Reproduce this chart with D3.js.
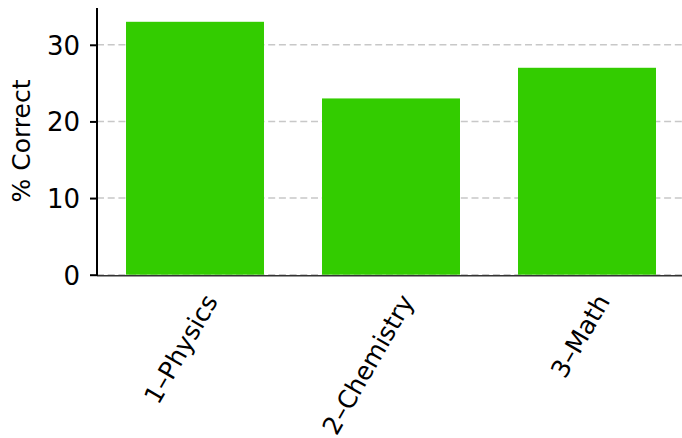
<!DOCTYPE html>
<html>
<head>
<meta charset="utf-8">
<script src="https://cdn.jsdelivr.net/npm/d3@7"></script>
<style>
  body { margin: 0; background: #fff; }
  text { font-family: "DejaVu Sans", sans-serif; }
</style>
</head>
<body>
<svg id="chart" width="682" height="438"></svg>
<script>
const subjects = ["1–Physics", "2–Chemistry", "3–Math"];
const pctCorrect = [33, 23, 27];
const yTicks = [0, 10, 20, 30];

const svg = d3.select("#chart");
const plotLeft = 97, plotTop = 8, plotBottom = 274.7, plotRight = 685;

const x = d3.scaleBand()
    .domain(subjects)
    .range([plotLeft, plotRight])
    .paddingInner(0.296)
    .paddingOuter(0.148);

const y = d3.scaleLinear()
    .domain([0, 34.8])
    .range([plotBottom, plotTop]);

// grid
svg.append("g")
    .selectAll("line")
    .data(yTicks)
    .join("line")
    .attr("x1", plotLeft)
    .attr("x2", 682)
    .attr("y1", d => y(d))
    .attr("y2", d => y(d))
    .style("stroke", "#c8c8c8")
    .style("stroke-width", 1.5)
    .style("stroke-dasharray", "7,3.7");

// base line under bars
svg.append("line")
    .attr("x1", plotLeft).attr("x2", 682)
    .attr("y1", plotBottom + 1).attr("y2", plotBottom + 1)
    .style("stroke", "#333")
    .style("stroke-width", 1.5);

// bars
svg.append("g")
    .selectAll("rect")
    .data(subjects)
    .join("rect")
    .attr("x", d => x(d))
    .attr("width", x.bandwidth())
    .attr("y", (d, i) => y(pctCorrect[i]))
    .attr("height", (d, i) => plotBottom - y(pctCorrect[i]))
    .style("fill", "#33cc00");

// y axis
const yAxis = svg.append("g")
    .attr("transform", `translate(${plotLeft},0)`)
    .call(d3.axisLeft(y).tickValues(yTicks).tickSize(7).tickPadding(10));
yAxis.select(".domain").remove();
yAxis.selectAll(".tick line").style("stroke", "#000").style("stroke-width", 2);
yAxis.selectAll(".tick text")
    .style("font-size", "26px")
    .style("fill", "#000")
    .attr("dy", "0.36em");
svg.append("line")
    .attr("x1", plotLeft).attr("x2", plotLeft)
    .attr("y1", plotTop).attr("y2", plotBottom + 1)
    .style("stroke", "#000")
    .style("stroke-width", 2);

// x labels
svg.append("g")
    .selectAll("text")
    .data(subjects)
    .join("text")
    .attr("transform", d => `translate(${x(d) + x.bandwidth() / 2 + 16},${plotBottom + 22}) rotate(-60)`)
    .attr("text-anchor", "end")
    .attr("dy", "0.35em")
    .style("font-size", "25px")
    .style("fill", "#000")
    .text(d => d);

// y label
svg.append("text")
    .attr("transform", `translate(30,141) rotate(-90)`)
    .attr("text-anchor", "middle")
    .style("font-size", "25px")
    .style("fill", "#000")
    .text("% Correct");
</script>
</body>
</html>
